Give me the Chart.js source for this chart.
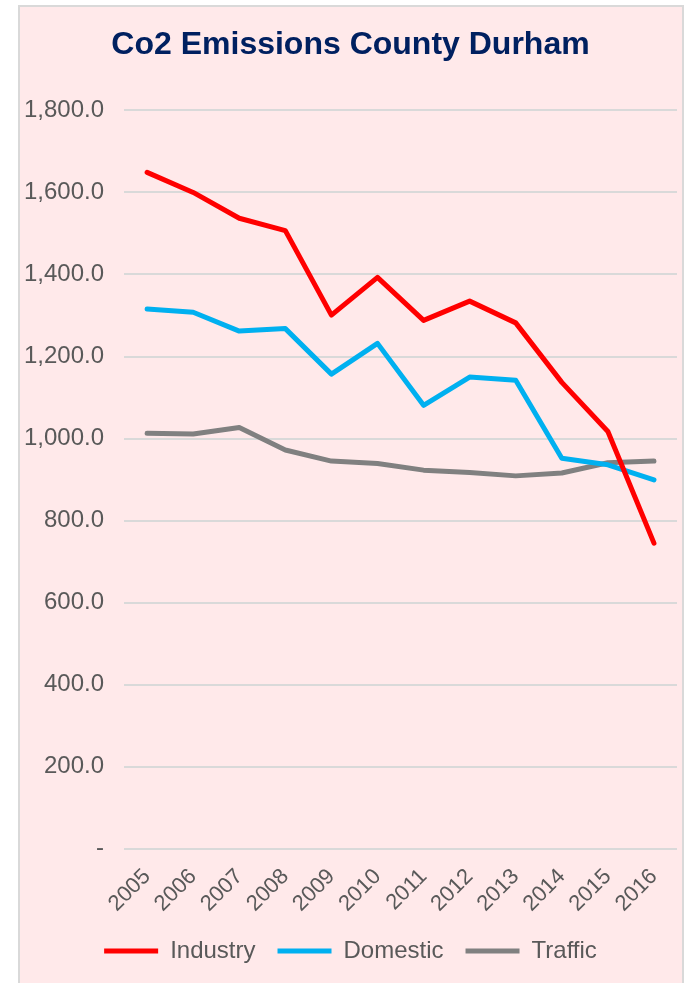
<!DOCTYPE html>
<html>
<head>
<meta charset="utf-8">
<script src="https://cdn.jsdelivr.net/npm/chart.js@4"></script>
<style>
  html, body { margin: 0; padding: 0; background: #ffffff; overflow: hidden; }
  #frame {
    position: absolute; left: 18px; top: 5px;
    width: 662px; height: 990px;
    border: 2px solid #d9d9d9;
    background: #ffe9ea;
  }
  #frame canvas { display: block; }
</style>
</head>
<body>
<div id="frame"><canvas id="myChart" width="662" height="976"></canvas></div>
<script>
// Years on the x axis
const years = ['2005', '2006', '2007', '2008', '2009', '2010', '2011', '2012', '2013', '2014', '2015', '2016'];

// Emissions per sector
const industry = [1649, 1600, 1537, 1507, 1301, 1393, 1288, 1335, 1282, 1137, 1017, 745];
const domestic = [1316, 1308, 1262, 1268, 1157, 1232, 1081, 1150, 1142, 952, 936, 899];
const traffic = [1013, 1011, 1027, 972, 945, 939, 923, 917, 909, 916, 941, 945];

// y axis range
const yMin = 0;
const yMax = 1800;
const yStep = 200;

const font = 'Arial, "Liberation Sans", sans-serif';
const grey = '#595959';

const ctx = document.getElementById('myChart');

function series(label, data, color) {
    return {
        label: label,
        data: data,
        borderColor: color,
        backgroundColor: color,
        borderWidth: 5,
        borderCapStyle: 'round',
        borderJoinStyle: 'round',
        pointRadius: 0,
        tension: 0
    };
}

new Chart(ctx, {
    type: 'line',
    data: {
        labels: years,
        datasets: [
            series('Industry', industry, '#ff0000'),
            series('Domestic', domestic, '#00b0f0'),
            series('Traffic', traffic, '#808080')
        ]
    },
    options: {
        responsive: false,
        animation: false,
        layout: { padding: { left: 4, right: 5, top: 0, bottom: 10 } },
        plugins: {
            title: {
                display: true,
                text: 'Co2 Emissions County Durham',
                color: '#002060',
                font: { family: font, size: 32, weight: 'bold' },
                padding: { top: 19, bottom: 46 }
            },
            legend: {
                position: 'bottom',
                labels: {
                    usePointStyle: true,
                    pointStyle: 'line',
                    pointStyleWidth: 54,
                    color: grey,
                    padding: 22,
                    font: { family: font, size: 24 }
                }
            },
            tooltip: { enabled: false }
        },
        scales: {
            x: {
                offset: true,
                grid: { display: false },
                border: { display: false },
                ticks: {
                    color: grey,
                    minRotation: 45,
                    maxRotation: 45,
                    padding: 7,
                    font: { family: font, size: 22 }
                },
                // let the rotated labels hang outside, like the original
                afterFit: scale => {
                    scale.paddingLeft = 0;
                    scale.paddingRight = 0;
                    scale.height -= 7;
                }
            },
            y: {
                min: yMin,
                max: yMax,
                border: { display: false },
                grid: { color: '#d9d9d9', lineWidth: 2, drawTicks: false },
                ticks: {
                    stepSize: yStep,
                    color: grey,
                    padding: 20,
                    font: { family: font, size: 24 },
                    callback: v => v === 0 ? '-' : v.toLocaleString('en-US', { minimumFractionDigits: 1, maximumFractionDigits: 1 })
                },
                // padding gets counted twice otherwise
                afterFit: scale => {
                    scale.width -= 20;
                }
            }
        }
    }
});
</script>
</body>
</html>
